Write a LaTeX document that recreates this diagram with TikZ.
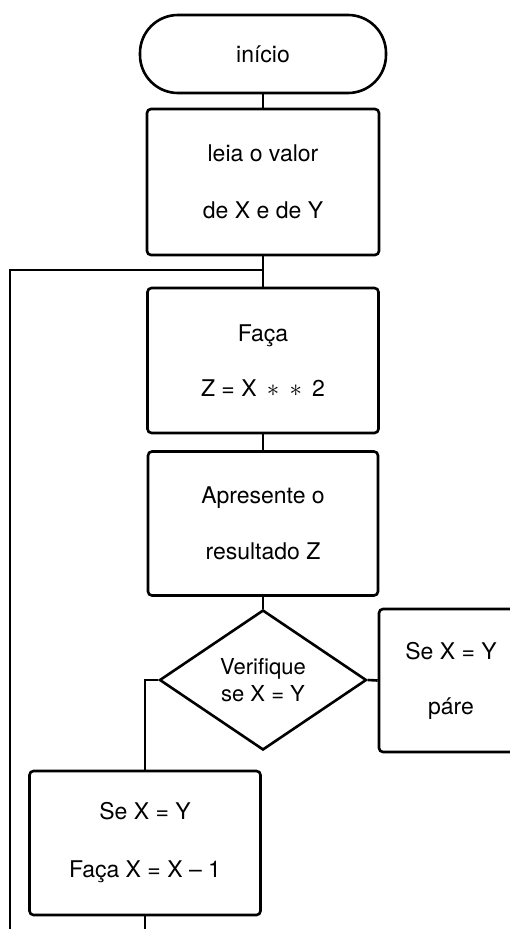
\documentclass[tikz,border=0pt]{standalone}
\usepackage{fontspec}
\setmainfont{TeX Gyre Heros}
\usetikzlibrary{shapes.geometric}
\begin{document}
\begin{tikzpicture}[x=1pt,y=-1pt,line width=2.6pt,
  txt/.style={align=center,inner sep=0pt,font=\fontsize{23}{27}\selectfont},
  box/.style={txt,draw,rounded corners=4pt},
  term/.style={txt,draw,rounded corners=38pt},
  decide/.style={txt,draw,diamond,font=\fontsize{22}{27}\selectfont}]
\useasboundingbox (0,0) rectangle (510,929);
\clip (0,0) rectangle (510,929);
\node[term,minimum width=246pt,minimum height=78pt] (start) at (263,54) {início};
\node[box,minimum width=232pt,minimum height=146pt] (b1) at (263,182) {leia o valor\\[30pt]de X e de Y};
\node[box,minimum width=231pt,minimum height=145pt] (b2) at (263,360.5) {Faça\\[28pt]Z = X \,$\ast$\, $\ast$\, 2};
\node[box,minimum width=230pt,minimum height=144pt] (b3) at (263,523.5) {Apresente o\\[29pt]resultado Z};
\node[decide,minimum width=207pt,minimum height=140pt] (dia) at (263,680) {Verifique\\se X = Y};
\node[box,minimum width=144pt,minimum height=143pt] (rb) at (451,680.5) {Se X = Y\\[28pt]páre};
\node[box,minimum width=231pt,minimum height=144pt] (lb) at (145,843) {Se X = Y\\[31pt]Faça X = X -- 1};
\coordinate (j) at (263,270);
\coordinate (loopL) at (10,270);
\coordinate (loopB) at (10,945);
\coordinate (lbout) at (145,945);
\draw (start) -- (b1);
\draw (b1) -- (b2);
\draw (j) -- (loopL) -- (loopB);
\draw (b2) -- (b3);
\draw (b3) -- (dia);
\draw (dia.east) -- (rb.west);
\draw (dia.west) -| (lb.north);
\draw (lb.south) -- (lbout);
\end{tikzpicture}
\end{document}
